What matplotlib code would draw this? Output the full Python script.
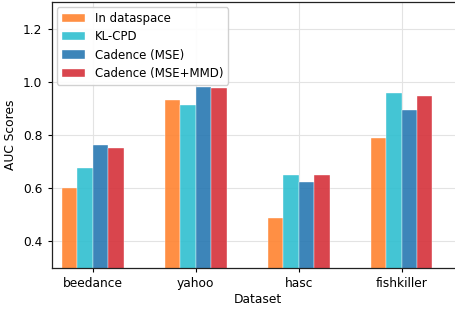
import numpy as np
import matplotlib.pyplot as plt

datasets = ['beedance', 'yahoo', 'hasc', 'fishkiller']
methods = ['In dataspace', 'KL-CPD', 'Cadence (MSE)', 'Cadence (MSE+MMD)']
in_dataspace = [0.600, 0.933, 0.487, 0.790]
kl_cpd = [0.675, 0.913, 0.648, 0.958]
cadence_mse = [0.762, 0.980, 0.622, 0.895]
cadence_mmd = [0.753, 0.976, 0.651, 0.947]
colors = ['#ff8330', '#2fbfd0', '#2878b2', '#d5313a']

fs = 8.8
plt.rcParams['axes.linewidth'] = 0.9
plt.rcParams['xtick.major.width'] = 0.8
plt.rcParams['ytick.major.width'] = 0.8
plt.rcParams['xtick.major.size'] = 3.2
plt.rcParams['ytick.major.size'] = 3.2

fig = plt.figure(figsize=(4.56, 3.10), dpi=100)
# axes run past the right edge of the canvas, as in the cropped original
ax = fig.add_axes([0.1134, 0.1355, 0.9026, 0.858])

x = np.arange(len(datasets))
width = 0.15
series = [in_dataspace, kl_cpd, cadence_mse, cadence_mmd]
for i, (vals, name, c) in enumerate(zip(series, methods, colors)):
    ax.bar(x + (i - 1.5) * width, vals, width, color=c, alpha=0.9,
           label=name, edgecolor='white', linewidth=0.3, zorder=2)

ax.set_xticks(x)
ax.set_xticklabels(datasets, fontsize=fs)
ax.set_xlim(-0.4, 3.6)
ax.set_ylim(0.3, 1.3)
ax.set_yticks([0.4, 0.6, 0.8, 1.0, 1.2])
ax.tick_params(labelsize=fs)
ax.set_xlabel('Dataset', fontsize=fs, labelpad=2)
ax.set_ylabel('AUC Scores', fontsize=fs)
ax.grid(True, color='#e3e3e3', linewidth=0.8, zorder=0)
ax.set_axisbelow(True)
for s in ax.spines.values():
    s.set_color('#222222')
ax.spines['right'].set_visible(False)

ax.legend(loc='upper left', fontsize=8.5, framealpha=0.9, labelspacing=0.45,
          borderaxespad=0.45)

fig.savefig('out.png', dpi=100)
